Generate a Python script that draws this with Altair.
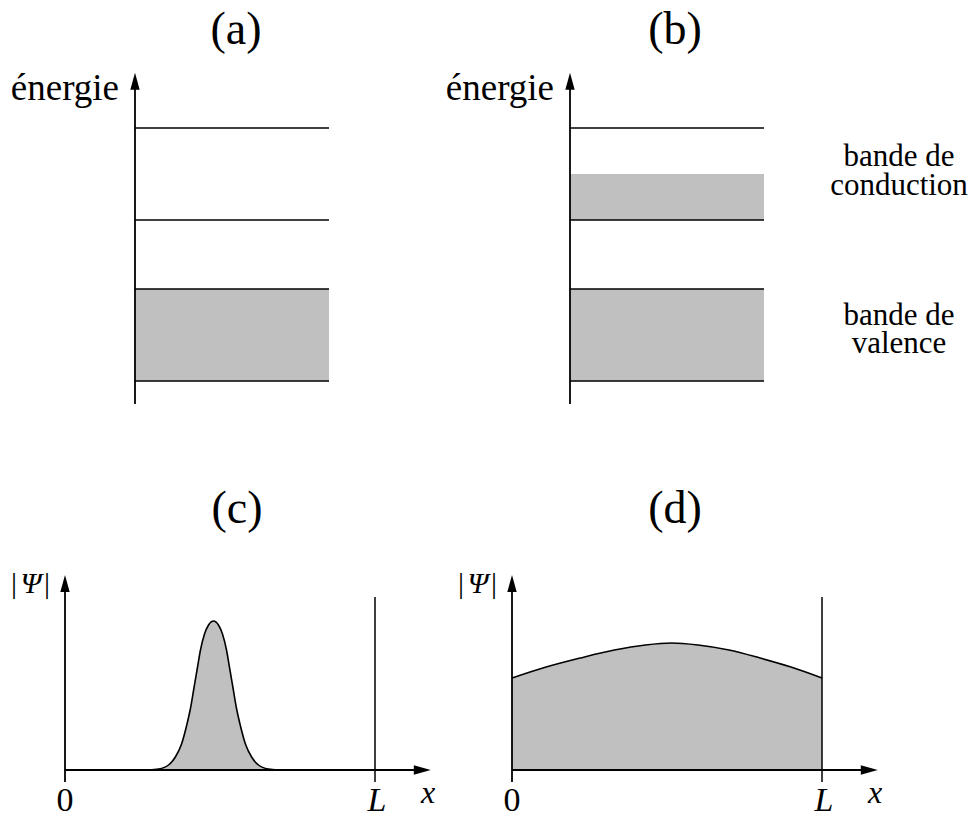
import altair as alt
import pandas as pd

# ---------------- data (logical values) ----------------
band_panels = ["a", "b"]
levels = [0.25, 1.25, 2.0, 3.0]            # energy levels drawn as lines (both panels)
filled_a = [(0.25, 1.25)]                  # occupied band(s), panel (a)
filled_b = [(0.25, 1.25), (2.0, 2.5)]      # occupied band(s), panel (b)
energy_top = 3.6                           # arrow tip of energy axis
band_len = 1.0

wave_panels = ["c", "d"]
# |Psi| for a localized state (c)
wave_c_x = [0.269, 0.302, 0.334, 0.356, 0.376, 0.392, 0.405, 0.416, 0.427, 0.437, 0.450, 0.463,
            0.479, 0.495, 0.508, 0.521, 0.531, 0.542, 0.553, 0.566, 0.582, 0.602, 0.624, 0.656, 0.689]
wave_c_y = [0.0, 0.01, 0.05, 0.13, 0.26, 0.44, 0.62, 0.82, 1.02, 1.20, 1.36, 1.45,
            1.49, 1.45, 1.36, 1.20, 1.02, 0.82, 0.62, 0.44, 0.26, 0.13, 0.05, 0.01, 0.0]
# |Psi| for a delocalized state (d)
wave_d_x = [0.0, 0.11, 0.22, 0.33, 0.43, 0.515, 0.60, 0.70, 0.80, 0.90, 1.0]
wave_d_y = [0.92, 1.03, 1.12, 1.20, 1.25, 1.27, 1.25, 1.20, 1.12, 1.03, 0.92]
L_val = 1.0
x_axis_end = 1.18
psi_top = 1.95
L_line_top = 1.73
axis_below = -0.12

titles = ["(a)", "(b)", "(c)", "(d)"]
band_label_lines = ["bande de", "conduction", "bande de", "valence"]

# ---------------- layout (page pixels) ----------------
band_origin = {"a": (135, 404), "b": (570, 404)}
band_sx, band_sy = 194, 92
wave_origin = {"c": (65, 770), "d": (512, 770)}
wave_sx, wave_sy = 310, 100
GRAY = "#c0c0c0"
FONT = "Times New Roman, serif"

rules, rects, arrows, waves = [], [], [], []
for p in band_panels:
    ox, oy = band_origin[p]
    ey = lambda e: oy - e * band_sy
    rules.append(dict(x=ox, x2=ox, y=ey(0), y2=ey(energy_top) + 10, w=1.8))
    arrows.append(dict(x=ox, y=ey(energy_top), ang=0))
    for e in levels:
        rules.append(dict(x=ox, x2=ox + band_len * band_sx, y=ey(e), y2=ey(e), w=1.5))
    for lo, hi in (filled_a if p == "a" else filled_b):
        rects.append(dict(x=ox, x2=ox + band_len * band_sx, y=ey(hi), y2=ey(lo)))

for p in wave_panels:
    ox, oy = wave_origin[p]
    wx = lambda v: ox + v * wave_sx
    wy = lambda v: oy - v * wave_sy
    rules.append(dict(x=ox, x2=ox, y=wy(axis_below), y2=wy(psi_top) + 10, w=1.8))
    arrows.append(dict(x=ox, y=wy(psi_top), ang=0))
    rules.append(dict(x=ox, x2=wx(x_axis_end) - 10, y=oy, y2=oy, w=1.8))
    arrows.append(dict(x=wx(x_axis_end), y=oy, ang=90))
    rules.append(dict(x=wx(L_val), x2=wx(L_val), y=wy(axis_below), y2=wy(L_line_top), w=1.5))
    xs_, ys_ = (wave_c_x, wave_c_y) if p == "c" else (wave_d_x, wave_d_y)
    for i, (a, b) in enumerate(zip(xs_, ys_)):
        waves.append(dict(panel=p, order=i, px=wx(a), py=wy(b), base=oy))

rules_df = pd.DataFrame(rules)
rects_df = pd.DataFrame(rects)
arrows_df = pd.DataFrame(arrows)
waves_df = pd.DataFrame(waves)

# texts: (x, y, text, fontsize, italic, align)
texts = []
for t, (x, y) in zip(titles, [(236, 44), (675, 44), (237, 523), (675, 523)]):
    texts.append(dict(x=x, y=y, text=t, fs=46, it=False, al="center"))
for p in band_panels:
    ox, oy = band_origin[p]
    texts.append(dict(x=ox - 16, y=100, text="énergie", fs=37, it=False, al="right"))
for t, y in zip(band_label_lines, [166, 195, 325, 353]):
    texts.append(dict(x=899, y=y, text=t, fs=31, it=False, al="center"))
for p in wave_panels:
    ox, oy = wave_origin[p]
    texts.append(dict(x=ox - 51, y=593, text="|", fs=30, it=False, al="center"))
    texts.append(dict(x=ox - 18, y=593, text="|", fs=30, it=False, al="center"))
    texts.append(dict(x=ox - 34, y=593, text="Ψ", fs=30, it=True, al="center"))
    texts.append(dict(x=ox, y=811, text="0", fs=34, it=False, al="center"))
    texts.append(dict(x=ox + 312, y=811, text="L", fs=34, it=True, al="center"))
    texts.append(dict(x=ox + 363, y=803, text="x", fs=32, it=True, al="center"))
texts_df = pd.DataFrame(texts)

# ---------------- chart ----------------
W, H, M = 961, 809, 8
xs = alt.Scale(domain=[M, M + W])
ys = alt.Scale(domain=[M, M + H], reverse=True)
X = lambda f: alt.X(f, type="quantitative", scale=xs, axis=None)
Y = lambda f: alt.Y(f, type="quantitative", scale=ys, axis=None)

rect_layer = alt.Chart(rects_df).mark_rect(color=GRAY).encode(
    x=X("x"), x2="x2", y=Y("y"), y2="y2")

area_layers = []
curve_layers = []
for p in wave_panels:
    src = waves_df[waves_df.panel == p]
    area_layers.append(
        alt.Chart(src).mark_area(fill=GRAY, interpolate="monotone").encode(
            x=X("px"), y=Y("py"), y2=alt.Y2("base")))
    curve_layers.append(
        alt.Chart(src).mark_line(color="black", strokeWidth=1.6,
                                 interpolate="monotone").encode(
            x=X("px"), y=Y("py"), order="order:Q"))

rule_layer = alt.Chart(rules_df).mark_rule(color="black").encode(
    x=X("x"), x2="x2", y=Y("y"), y2="y2",
    strokeWidth=alt.StrokeWidth("w:Q", scale=None))

arrow_layer = alt.Chart(arrows_df).mark_point(
    shape="M0,0L0.55,2L-0.55,2Z", filled=True, color="black", opacity=1, size=289,
    strokeWidth=0).encode(
    x=X("x"), y=Y("y"), angle=alt.Angle("ang:Q", scale=None))

text_layers = []
for (fs, it, al), grp in texts_df.groupby(["fs", "it", "al"]):
    kw = dict(font=FONT, fontSize=float(fs), align=al, baseline="alphabetic")
    if it:
        kw["fontStyle"] = "italic"
    text_layers.append(
        alt.Chart(grp[["x", "y", "text"]]).mark_text(**kw).encode(
            x=X("x"), y=Y("y"), text="text:N"))

chart = alt.layer(rect_layer, *area_layers, *curve_layers, rule_layer, arrow_layer,
                  *text_layers).properties(
    width=W, height=H, autosize=alt.AutoSizeParams(type="none"), padding=0,
    background="white"
).configure_view(stroke=None)

chart.save("out.html", embed_options={"renderer": "svg", "actions": False})
